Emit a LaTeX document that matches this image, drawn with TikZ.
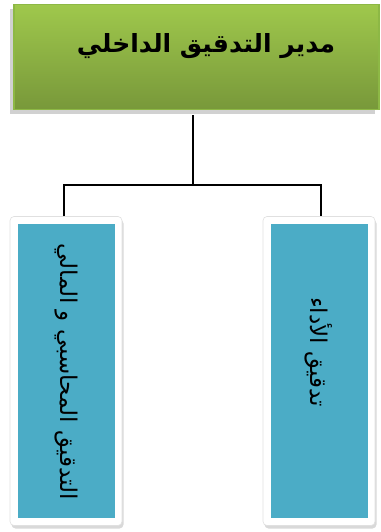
\documentclass[tikz,border=0pt]{standalone}
\usepackage{fontspec}
\newfontfamily\arabicfont[Script=Arabic]{DejaVu Sans}
\TeXXeTstate=1
\usetikzlibrary{shadows}
\definecolor{gtop}{HTML}{9FC84C}
\definecolor{gbot}{HTML}{78983A}
\definecolor{gedge}{HTML}{8DB845}
\definecolor{bluefill}{HTML}{4BACC6}
\tikzset{
  headbox/.style={rectangle, minimum width=365pt, minimum height=105pt, draw=gedge, line width=1.2pt,
    top color=gtop, bottom color=gbot, drop shadow={shadow xshift=-4pt, shadow yshift=-5pt, opacity=0.3, fill=black!60}, inner sep=0pt},
  outerbox/.style={rectangle, rounded corners=4pt, fill=white, draw=black!12, line width=0.6pt, minimum width=112pt, minimum height=309pt,
    drop shadow={shadow xshift=1.5pt, shadow yshift=-3pt, opacity=0.3}, inner sep=0pt},
  innerbox/.style={rectangle, fill=bluefill, minimum width=97pt, minimum height=294pt, inner sep=0pt},
  conn/.style={draw=black, line width=1.3pt},
  boxtext/.style={font=\arabicfont\fontsize{23}{27}\selectfont, rotate=-90, text=black},
}
\begin{document}
\begin{tikzpicture}[x=1pt,y=-1pt]
\useasboundingbox (0,0) rectangle (380,532);
\node[headbox] (head) at (196.5,57) {};
\node[font=\arabicfont\bfseries\fontsize{25}{30}\selectfont] (headtext) at (206,46) {\beginR مدير التدقيق الداخلي\endR};
\coordinate (split) at (193,185);
\node[outerbox] (lout) at (66,371) {};
\node[innerbox] (lbox) at (66,371) {};
\node[boxtext] (ltext) at (66,372) {\beginR التدقيق المحاسبي و المالي\endR};
\node[outerbox] (rout) at (319,371) {};
\node[innerbox] (rbox) at (319,371) {};
\node[boxtext] (rtext) at (319,352) {\beginR تدقيق الأداء\endR};
\draw[conn] (193,115) -- (split);
\draw[conn] (lout.north -| 64,0) |- (split) -| (rout.north -| 321,0);
\end{tikzpicture}
\end{document}
